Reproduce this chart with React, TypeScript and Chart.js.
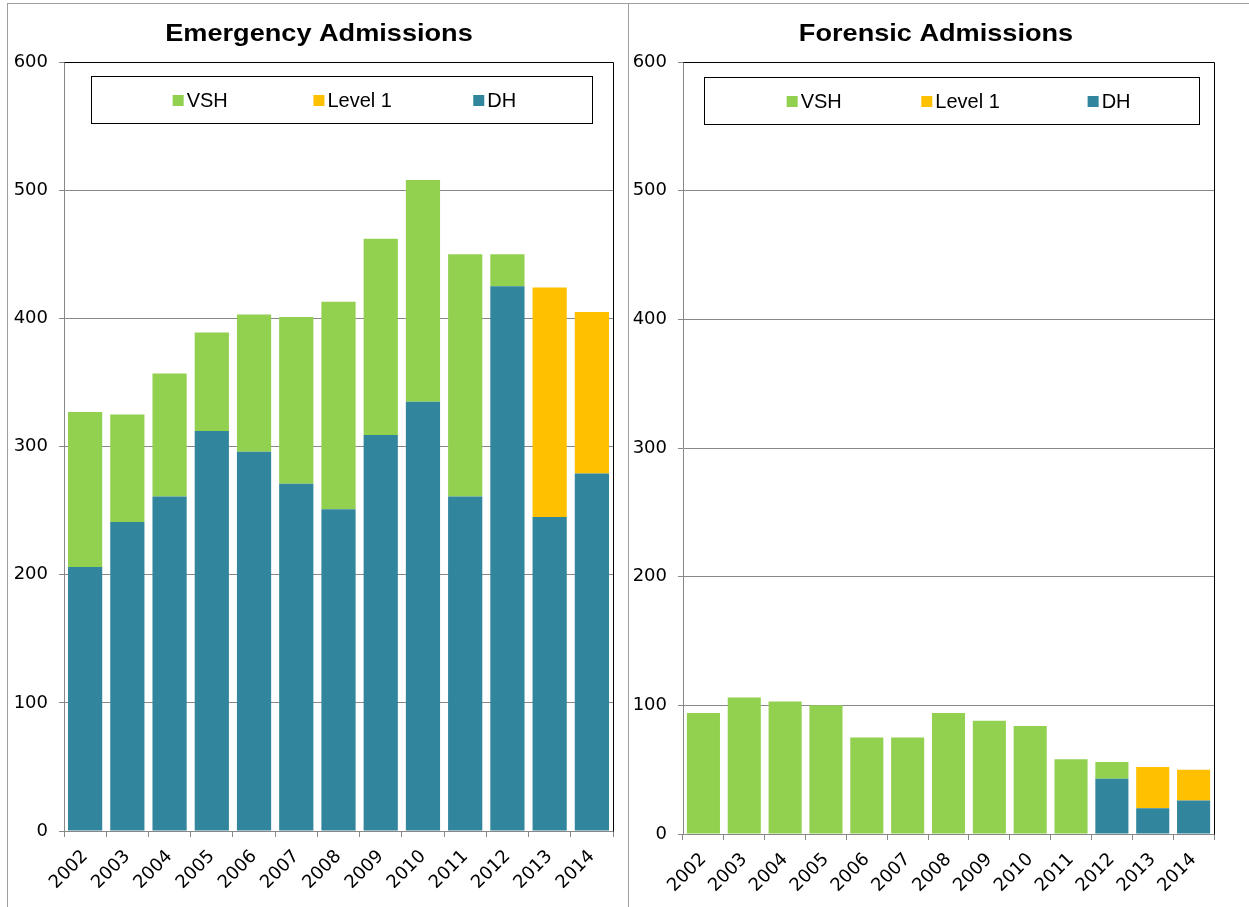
import React, { useEffect, useRef } from "react";
import { Chart, registerables } from "chart.js";
Chart.register(...registerables);

const years = ["2002", "2003", "2004", "2005", "2006", "2007", "2008", "2009", "2010", "2011", "2012", "2013", "2014"];
const emergencyDH = [206, 241, 261, 312, 296, 271, 251, 309, 335, 261, 425, 245, 279];
const emergencyLevel1 = [0, 0, 0, 0, 0, 0, 0, 0, 0, 0, 0, 179, 126];
const emergencyVSH = [121, 84, 96, 77, 107, 130, 162, 153, 173, 189, 25, 0, 0];
const forensicDH = [0, 0, 0, 0, 0, 0, 0, 0, 0, 0, 43, 20, 26];
const forensicLevel1 = [0, 0, 0, 0, 0, 0, 0, 0, 0, 0, 0, 32, 24];
const forensicVSH = [94, 106, 103, 100, 75, 75, 94, 88, 84, 58, 13, 0, 0];
const seriesNames = ["VSH", "Level 1", "DH"];
const seriesColors = ["#92D050", "#FFC000", "#31859C"];
const yMax = 600;
const yStep = 100;

const FONT = "'Liberation Sans', Arial, sans-serif";
const TICK_FONT = "'DejaVu Sans', sans-serif";

type PanelProps = {
  title: string;
  dh: number[];
  l1: number[];
  vsh: number[];
  left: number;
  axisWidth: number;
  rightPad: number;
  bottomPad: number;
  legendLeft: number;
  legendRight: number;
  legendTop: number;
  legendFracs: number[];
  titleX: number;
};

const W = 620;
const H = 903;

function Panel(p: PanelProps) {
  const ref = useRef<HTMLCanvasElement | null>(null);
  useEffect(() => {
    const canvas = ref.current!;
    const decor = {
      id: "decor",
      afterDraw(chart: any) {
        const ctx = chart.ctx;
        const a = chart.chartArea;
        ctx.save();
        ctx.fillStyle = "#000";
        ctx.font = `bold 24px ${FONT}`;
        ctx.textAlign = "center";
        ctx.textBaseline = "middle";
        ctx.save();
        ctx.translate(p.titleX, 30);
        ctx.scale(1.13, 1);
        ctx.fillText(p.title, 0, 0);
        ctx.restore();
        ctx.strokeStyle = "#000";
        ctx.lineWidth = 1;
        ctx.beginPath();
        ctx.moveTo(Math.round(a.left) + 0.5, Math.round(a.top) + 0.5);
        ctx.lineTo(Math.round(a.right) + 0.5, Math.round(a.top) + 0.5);
        ctx.lineTo(Math.round(a.right) + 0.5, Math.round(a.bottom) + 0.5);
        ctx.stroke();
        const bx = Math.round(a.left + p.legendLeft) + 0.5;
        const by = Math.round(a.top + p.legendTop) + 0.5;
        const bw = Math.round(a.right - p.legendRight - bx);
        const bh = 47;
        ctx.fillStyle = "#fff";
        ctx.fillRect(bx, by, bw, bh);
        ctx.strokeStyle = "#000";
        ctx.strokeRect(bx, by, bw, bh);
        ctx.font = `20px ${FONT}`;
        ctx.textAlign = "left";
        ctx.textBaseline = "middle";
        const cy = by + bh / 2;
        seriesNames.forEach((name, i) => {
          const sx = bx + bw * p.legendFracs[i];
          ctx.fillStyle = seriesColors[i];
          ctx.fillRect(sx, cy - 5, 11, 11);
          ctx.fillStyle = "#000";
          ctx.fillText(name, sx + 14, cy + 1);
        });
        ctx.restore();
      },
    };
    const chart = new Chart(canvas, {
      type: "bar",
      data: {
        labels: years,
        datasets: [
          { label: "DH", data: p.dh, backgroundColor: seriesColors[2], borderWidth: 0 },
          { label: "Level 1", data: p.l1, backgroundColor: seriesColors[1], borderWidth: 0 },
          { label: "VSH", data: p.vsh, backgroundColor: seriesColors[0], borderWidth: 0 },
        ],
      },
      options: {
        responsive: false,
        animation: false,
        layout: { padding: { top: 58, left: 0, right: p.rightPad, bottom: p.bottomPad } },
        plugins: { legend: { display: false }, title: { display: false }, tooltip: { enabled: false } },
        datasets: { bar: { barPercentage: 0.81, categoryPercentage: 1 } },
        scales: {
          x: {
            stacked: true,
            grid: { drawOnChartArea: false, drawTicks: true, tickLength: 6, color: "#888", offset: true },
            border: { color: "#888" },
            ticks: {
              color: "#000",
              font: { family: TICK_FONT, size: 18 },
              minRotation: 45,
              maxRotation: 45,
              autoSkip: false,
              padding: 9,
            },
            afterFit: (s: any) => {
              s.height = 70;
            },
          },
          y: {
            stacked: true,
            min: 0,
            max: yMax,
            grid: { color: "#888", tickLength: 5 },
            border: { color: "#888" },
            ticks: {
              stepSize: yStep,
              color: "#000",
              font: { family: TICK_FONT, size: 18 },
              padding: 11,
            },
            afterFit: (s: any) => {
              s.width = p.axisWidth;
            },
          },
        },
      },
      plugins: [decor],
    } as any);
    return () => chart.destroy();
  }, []);
  return (
    <canvas
      ref={ref}
      width={W}
      height={H}
      style={{ position: "absolute", left: p.left, top: 4, width: W, height: H }}
    />
  );
}

export default function App() {
  return (
    <div style={{ position: "absolute", left: 0, top: 0, width: 1249, height: 907, overflow: "hidden", background: "#fff" }}>
      <div style={{ position: "absolute", left: 7, top: 3, width: 1242, height: 1, background: "#a0a0a0" }} />
      <div style={{ position: "absolute", left: 7, top: 3, width: 1, height: 904, background: "#a0a0a0" }} />
      <div style={{ position: "absolute", left: 628, top: 3, width: 1, height: 904, background: "#a0a0a0" }} />
      <Panel
        title="Emergency Admissions"
        dh={emergencyDH}
        l1={emergencyLevel1}
        vsh={emergencyVSH}
        left={8}
        axisWidth={56}
        rightPad={15}
        bottomPad={6}
        legendLeft={27}
        legendRight={21}
        legendTop={14}
        legendFracs={[0.162, 0.443, 0.762]}
        titleX={311}
      />
      <Panel
        title="Forensic Admissions"
        dh={forensicDH}
        l1={forensicLevel1}
        vsh={forensicVSH}
        left={629}
        axisWidth={54}
        rightPad={35}
        bottomPad={3}
        legendLeft={21}
        legendRight={15}
        legendTop={15}
        legendFracs={[0.166, 0.438, 0.774]}
        titleX={307}
      />
    </div>
  );
}
